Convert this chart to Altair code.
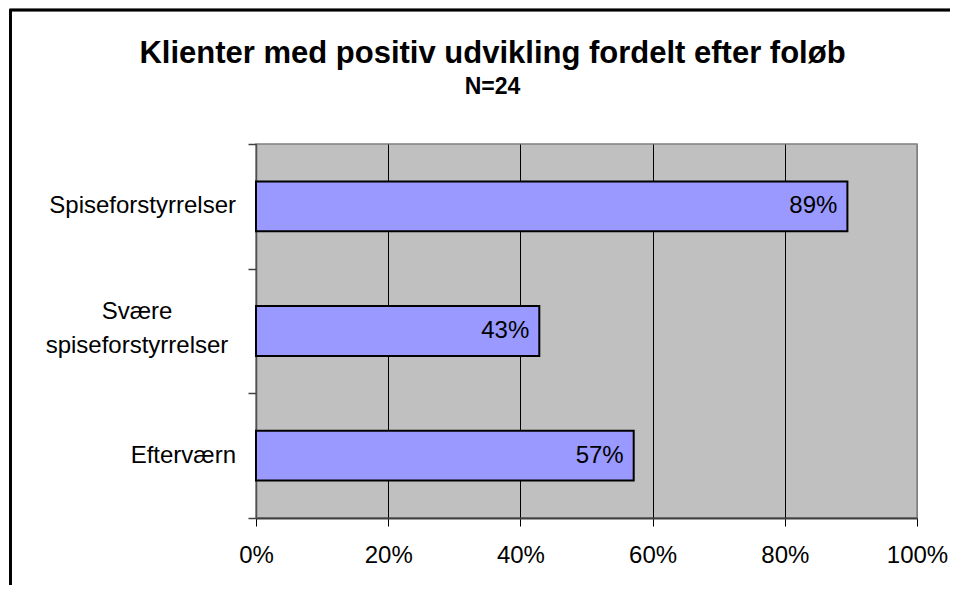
import altair as alt
import pandas as pd

categories = ["Spiseforstyrrelser", "Svære spiseforstyrrelser", "Efterværn"]
values = [0.8947, 0.4286, 0.5714]
x_ticks = [0, 0.2, 0.4, 0.6, 0.8, 1.0]
title_text = "Klienter med positiv udvikling fordelt efter foløb"
subtitle_text = "N=24"

df = pd.DataFrame({"kategori": categories, "andel": values})

FONT = "Liberation Sans"

y_enc = alt.Y(
    "kategori:N",
    sort=categories,
    title=None,
    scale=alt.Scale(paddingInner=0, paddingOuter=0),
    axis=alt.Axis(
        tickBand="extent",
        tickSize=8,
        tickColor="#404040",
        tickWidth=1.5,
        domainColor="#505050",
        domainWidth=1.5,
        labels=False,
        grid=False,
    ),
)

x_enc = alt.X(
    "andel:Q",
    title=None,
    scale=alt.Scale(domain=[0, 1], nice=False),
    axis=alt.Axis(
        values=x_ticks,
        format=".0%",
        tickSize=8,
        tickColor="black",
        tickWidth=1,
        domainColor="#404040",
        domainWidth=2,
        labelFont=FONT,
        labelFontSize=24,
        labelColor="black",
        labelFlush=False,
        labelPadding=17,
        grid=True,
        gridColor={"condition": {"test": "datum.value === 1", "value": "#808080"}, "value": "black"},
        gridWidth=1,
        gridOpacity=1,
    ),
)

bars = alt.Chart(df).mark_bar(
    color="#9999FF", stroke="black", strokeWidth=2, height={"band": 0.4}
).encode(x=x_enc, y=y_enc)

labels = alt.Chart(df).mark_text(
    align="right", baseline="middle", dx=-10, font=FONT, fontSize=24, color="black"
).encode(
    x=alt.X("andel:Q"),
    y=alt.Y("kategori:N", sort=categories, bandPosition=0.5),
    text=alt.Text("andel:Q", format=".0%"),
)

# category labels: single-word ones right aligned, two-word one centred on two lines
cat_single = alt.Chart(df).transform_filter(
    "indexof(datum.kategori, ' ') < 0"
).mark_text(
    align="right", baseline="middle", font=FONT, fontSize=24, color="black"
).encode(
    x=alt.value(-20),
    y=alt.Y("kategori:N", sort=categories, bandPosition=0.5),
    text="kategori:N",
)
cat_multi = alt.Chart(df).transform_filter(
    "indexof(datum.kategori, ' ') >= 0"
).mark_text(
    align="center", baseline="middle", font=FONT, fontSize=24, color="black",
    lineBreak=" ", lineHeight=34, dy=-19
).encode(
    x=alt.value(-119),
    y=alt.Y("kategori:N", sort=categories, bandPosition=0.5),
    text="kategori:N",
)

frame_left = alt.Chart(df).mark_rule(color="black", strokeWidth=2.5).encode(
    x=alt.value(-245.5), y=alt.value(-134), y2=alt.value(700)
)
frame_top = alt.Chart(df).mark_rule(color="black", strokeWidth=2.5).encode(
    x=alt.value(-246.5), x2=alt.value(900), y=alt.value(-134)
)

chart = alt.layer(bars, labels, cat_single, cat_multi, frame_left, frame_top).properties(
    width=661,
    height=374,
    autosize=alt.AutoSizeParams(type="none"),
    padding={"left": 248, "top": 136, "right": 33, "bottom": 67},
    background="white",
    title=alt.TitleParams(
        text=title_text,
        subtitle=subtitle_text,
        font=FONT,
        subtitleFont=FONT,
        fontSize=31,
        subtitleFontSize=23,
        fontWeight="bold",
        subtitleFontWeight="bold",
        color="black",
        subtitleColor="black",
        anchor="middle",
        frame="group",
        dx=-94,
        offset=-91,
        subtitlePadding=6,
    ),
).configure_view(
    fill="#C0C0C0", stroke="#808080", strokeWidth=1.5
)

chart.save("out.html", embed_options={"renderer": "svg", "actions": False})
